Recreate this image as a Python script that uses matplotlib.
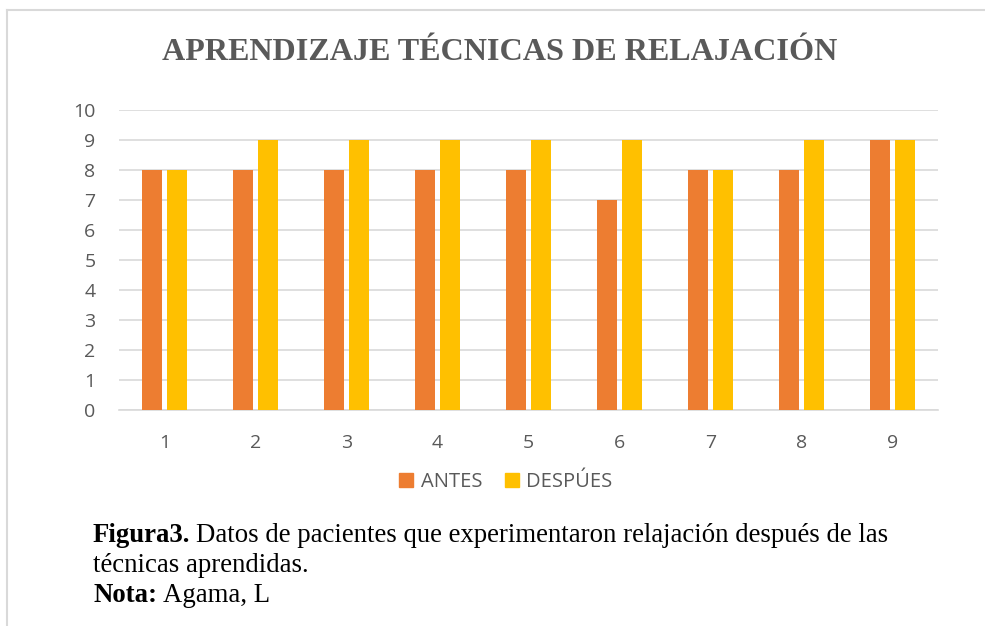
import numpy as np
import matplotlib.pyplot as plt
from matplotlib.lines import Line2D
from matplotlib.patches import Patch

# datos
pacientes = [1, 2, 3, 4, 5, 6, 7, 8, 9]
antes = [8, 8, 8, 8, 8, 7, 8, 8, 9]
despues = [8, 9, 9, 9, 9, 9, 8, 9, 9]

naranja = '#ED7D31'
amarillo = '#FFC000'
gris = '#595959'
rejilla = '#D9D9D9'

W, H = 985, 626
fig = plt.figure(figsize=(W / 100, H / 100), dpi=100)
ax = fig.add_axes([119 / W, 1 - 410 / H, (938 - 119) / W, 300 / H])

x = np.array(pacientes)
ax.bar(x - 0.14, antes, width=0.22, color=naranja, label='ANTES', zorder=3)
ax.bar(x + 0.14, despues, width=0.22, color=amarillo, label='DESPÚES', zorder=3)

ax.set_xlim(0.5, 9.5)
ax.set_ylim(0, 10)
ax.set_yticks(range(0, 11))
ax.set_xticks(x)
ax.grid(axis='y', color=rejilla, lw=1.2, zorder=0)
for s in ['top', 'right', 'left']:
    ax.spines[s].set_visible(False)
ax.spines['bottom'].set_color(rejilla)
ax.spines['bottom'].set_linewidth(1.2)
ax.tick_params(length=0, labelsize=14, labelcolor=gris)
ax.tick_params(axis='y', pad=17)
ax.tick_params(axis='x', pad=17)
for lab in ax.get_xticklabels() + ax.get_yticklabels():
    lab.set_fontfamily('Open Sans')

fig.text(499.5 / W, 1 - 60 / H, 'APRENDIZAJE TÉCNICAS DE RELAJACIÓN',
         ha='center', va='baseline', fontsize=23.1, fontweight='bold',
         family='Liberation Serif', color=gris)

handles = [Patch(color=naranja, label='ANTES'), Patch(color=amarillo, label='DESPÚES')]
fig.legend(handles=handles, loc='center', bbox_to_anchor=(506 / W, 1 - 482 / H),
           ncol=2, frameon=False, handlelength=0.7, handleheight=0.7,
           handletextpad=0.35, columnspacing=1.15,
           prop={'family': 'Open Sans', 'size': 14.5}, labelcolor=gris)

# marco
fig.add_artist(Line2D([7 / W, 1], [1 - 10 / H, 1 - 10 / H], color=rejilla, lw=1.5))
fig.add_artist(Line2D([7 / W, 7 / W], [0, 1 - 10 / H], color=rejilla, lw=1.5))

# pie de figura
renderer = fig.canvas.get_renderer()
def texto_mixto(y, negrita, normal):
    t = fig.text(93 / W, 1 - y / H, negrita, ha='left', va='baseline',
                 fontsize=19.3, fontweight='bold', family='Liberation Serif')
    bb = t.get_window_extent(renderer)
    fig.text(bb.x1 / W + 6 / W, 1 - y / H, normal, ha='left', va='baseline',
             fontsize=19.3, family='Liberation Serif')

texto_mixto(542, 'Figura3.', 'Datos de pacientes que experimentaron relajación después de las')
fig.text(93 / W, 1 - 572 / H, 'técnicas aprendidas.', ha='left', va='baseline',
         fontsize=19.3, family='Liberation Serif')
texto_mixto(602, 'Nota:', 'Agama, L')

fig.savefig('out.png', dpi=100)
